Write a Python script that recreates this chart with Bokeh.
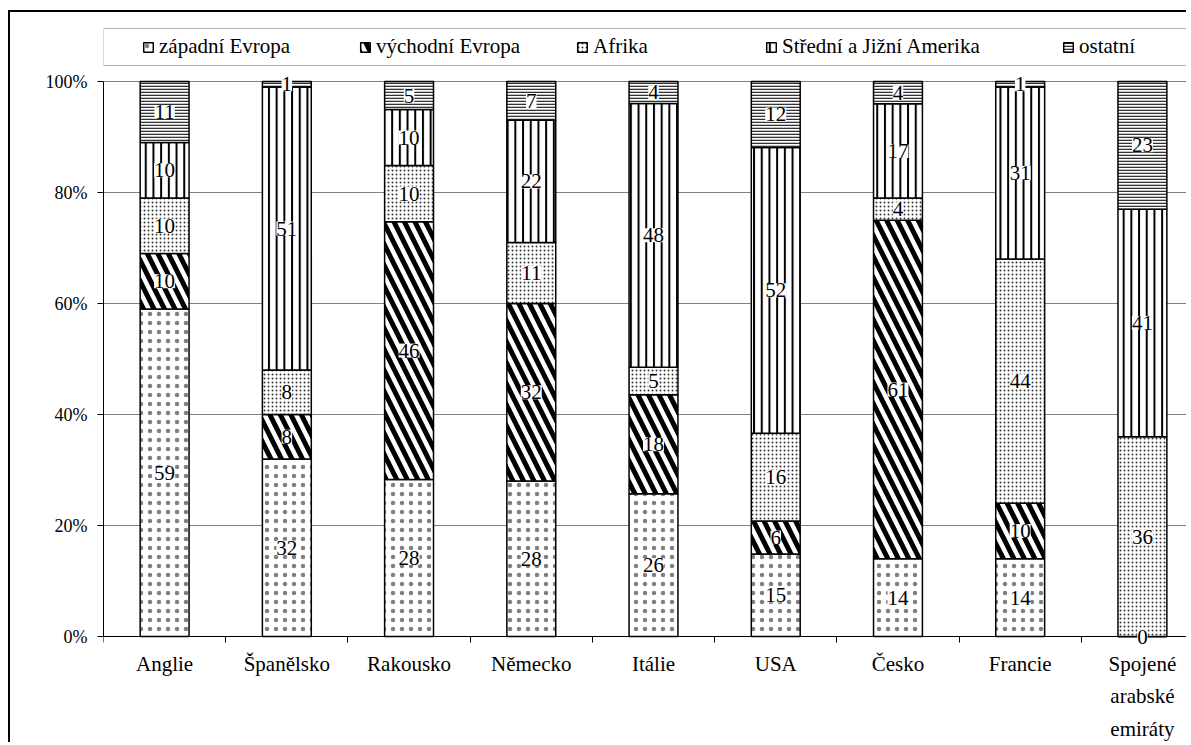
from bokeh.plotting import figure
from bokeh.models import (Range1d, FixedTicker, NumeralTickFormatter, LabelSet,
                          ColumnDataSource, Legend, LegendItem, BoxAnnotation)
from bokeh.embed import file_html
from bokeh.resources import INLINE

categories = ["Anglie", "Španělsko", "Rakousko", "Německo", "Itálie", "USA",
              "Česko", "Francie", "Spojené\narabské\nemiráty"]
series_names = ["západní Evropa", "východní Evropa", "Afrika",
                "Střední a Jižní Amerika", "ostatní"]
zapadni = [59, 32, 28, 28, 26, 15, 14, 14, 0]
vychodni = [10, 8, 46, 32, 18, 6, 61, 10, None]
afrika = [10, 8, 10, 11, 5, 16, 4, 44, 36]
amerika = [10, 51, 10, 22, 48, 52, 17, 31, 41]
ostatni = [11, 1, 5, 7, 4, 12, 4, 1, 23]
y_ticks = [0, 0.2, 0.4, 0.6, 0.8, 1.0]

series = [zapadni, vychodni, afrika, amerika, ostatni]
styles = [
    dict(hatch_pattern="dot", hatch_scale=9, hatch_weight=0.2, hatch_color="#808080"),
    dict(hatch_pattern="left_diagonal_line", hatch_scale=21, hatch_weight=5, hatch_color="black"),
    dict(hatch_pattern="dot", hatch_scale=4, hatch_weight=1.4, hatch_color="#333333"),
    dict(hatch_pattern="vertical_line", hatch_scale=7.7, hatch_weight=2, hatch_color="black"),
    dict(hatch_pattern="horizontal_line", hatch_scale=3, hatch_weight=1.6, hatch_color="#333333"),
]

FONT = "Liberation Serif"
n = len(categories)
xs = [i + 0.5 for i in range(n)]
totals = [sum((s[i] or 0) for s in series) for i in range(n)]

# layout (pixels)
W, H = 1178, 732
TOP, LEFT = 6, 93
PX = 555.0           # pixels for 100 %
BELOW = 108          # frame pixels below the 0 % baseline
ABOVE = H - TOP - BELOW

p = figure(width=W, height=H, output_backend="svg", toolbar_location=None,
           x_range=Range1d(0, 8.877), y_range=Range1d(-BELOW / PX, ABOVE / PX),
           min_border_left=LEFT, min_border_right=0, min_border_bottom=0,
           min_border_top=TOP)
p.styles = {"margin-left": "8px", "margin-top": "10px",
            "border-left": "2px solid black", "border-top": "2px solid black"}
p.outline_line_color = None
p.background_fill_color = "white"
p.border_fill_color = "white"

bottoms = [0.0] * n
renderers = []
for name, vals, st in zip(series_names, series, styles):
    frac = [(v or 0) / t for v, t in zip(vals, totals)]
    tops = [b + f for b, f in zip(bottoms, frac)]
    src = ColumnDataSource(dict(x=xs, bottom=bottoms, top=tops))
    r = p.vbar(x="x", width=0.40, bottom="bottom", top="top", source=src,
               fill_color="white", line_color="black", line_width=1.5, **st)
    renderers.append(r)
    lx, ly, lt = [], [], []
    for i, v in enumerate(vals):
        if v is None:
            continue
        lx.append(xs[i])
        ly.append((bottoms[i] + tops[i]) / 2)
        lt.append(str(v))
    lsrc = ColumnDataSource(dict(x=lx, y=ly, text=lt))
    p.add_layout(LabelSet(x="x", y="y", text="text", source=lsrc,
                          text_align="center", text_baseline="middle",
                          text_font=FONT, text_font_size="21px", text_color="black",
                          background_fill_color="white"))
    bottoms = tops

# x axis sits on the 0 % line; categories below it
p.xaxis.fixed_location = 0
p.xaxis.ticker = FixedTicker(ticks=xs, minor_ticks=list(range(n + 1)))
p.xaxis.major_label_overrides = {x: c for x, c in zip(xs, categories)}
p.xaxis.major_tick_out = 0
p.xaxis.major_tick_in = 0
p.xaxis.minor_tick_out = 6
p.xaxis.minor_tick_in = 0
p.xaxis.minor_tick_line_color = "black"
p.xaxis.axis_line_color = "black"
p.xaxis.major_label_standoff = 9
p.xaxis.major_label_text_font = FONT
p.xaxis.major_label_text_font_size = "21px"
p.xaxis.major_label_text_color = "black"
p.xaxis.major_label_text_line_height = 1.36

p.yaxis.ticker = FixedTicker(ticks=y_ticks, minor_ticks=[])
p.yaxis.formatter = NumeralTickFormatter(format="0%")
p.yaxis.bounds = (0, 1)
p.yaxis.major_tick_out = 6
p.yaxis.major_tick_in = 0
p.yaxis.major_tick_line_color = "black"
p.yaxis.axis_line_color = "black"
p.yaxis.major_label_standoff = 10
p.yaxis.major_label_text_font = FONT
p.yaxis.major_label_text_font_size = "18px"
p.yaxis.major_label_text_color = "black"

p.xgrid.grid_line_color = None
p.ygrid.ticker = FixedTicker(ticks=y_ticks)
p.ygrid.grid_line_color = "#808080"
p.ygrid.grid_line_width = 1

# legend frame (pixel offsets above the baseline converted to data units)
p.add_layout(BoxAnnotation(left=0, right=20, top=608 / PX, bottom=571 / PX,
                           fill_color="white", fill_alpha=1,
                           line_color="black", line_width=1, level="overlay"))

leg_kw = dict(orientation="horizontal", spacing=15, padding=0, margin=0,
              glyph_width=12, glyph_height=12, label_standoff=5,
              label_text_font=FONT, label_text_font_size="21px",
              label_text_color="black", border_line_color=None,
              background_fill_alpha=0)
legend_a = Legend(items=[LegendItem(label=series_names[i], renderers=[renderers[i]])
                         for i in range(3)],
                  location=(39, BELOW + 577), label_width=185, **leg_kw)
legend_b = Legend(items=[LegendItem(label=series_names[i], renderers=[renderers[i]])
                         for i in range(3, 5)],
                  location=(662, BELOW + 577), label_width=265, **leg_kw)
p.add_layout(legend_a, "center")
p.add_layout(legend_b, "center")

open("out.html", "w").write(file_html(p, INLINE))
